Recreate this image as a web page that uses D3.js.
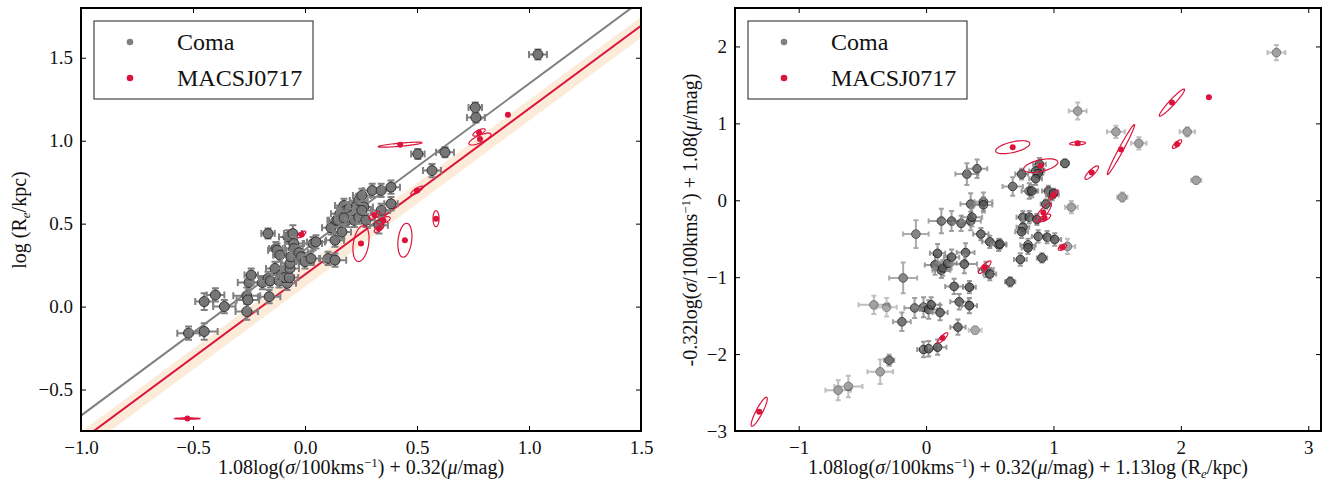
<!DOCTYPE html>
<html>
<head>
<meta charset="utf-8">
<script src="https://cdn.jsdelivr.net/npm/d3@7"></script>
<style>
  body { margin: 0; background: #fff; }
  text { font-family: "Liberation Serif", "DejaVu Serif", serif; fill: #111; }
</style>
</head>
<body>
<svg id="fig" width="1338" height="481"></svg>
<script>
// ---- data ----
// Coma, left panel: [x, y, xerr, yerr]
const comaLeft = [
  [-0.52,-0.16,0.05,0.04],[-0.45,-0.15,0.06,0.05],[-0.45,0.03,0.04,0.05],[-0.40,0.07,0.04,0.04],
  [-0.36,0.00,0.05,0.04],[-0.26,-0.03,0.05,0.05],[-0.26,0.065,0.06,0.05],[-0.255,0.04,0.05,0.05],
  [-0.25,0.145,0.05,0.04],[-0.24,0.19,0.03,0.04],[-0.19,0.145,0.04,0.04],[-0.165,0.17,0.04,0.04],
  [-0.165,0.44,0.03,0.03],[-0.16,0.06,0.05,0.04],[-0.155,0.155,0.04,0.04],[-0.134,0.23,0.04,0.04],
  [-0.13,0.35,0.03,0.04],[-0.125,0.34,0.04,0.04],[-0.112,0.31,0.03,0.04],[-0.116,0.155,0.04,0.04],
  [-0.107,0.19,0.04,0.04],[-0.08,0.14,0.04,0.04],[-0.09,0.175,0.04,0.04],[-0.07,0.175,0.04,0.04],
  [-0.067,0.23,0.04,0.04],[-0.067,0.26,0.04,0.04],[-0.063,0.30,0.04,0.04],[-0.076,0.42,0.04,0.04],
  [-0.054,0.44,0.04,0.05],[-0.05,0.38,0.04,0.04],[-0.05,0.35,0.04,0.04],[-0.027,0.325,0.04,0.04],
  [-0.018,0.30,0.04,0.04],[0.0,0.27,0.04,0.04],[0.027,0.29,0.04,0.04],[0.036,0.38,0.04,0.04],
  [0.049,0.39,0.04,0.04],[0.103,0.29,0.04,0.04],[0.134,0.28,0.05,0.04],[0.134,0.40,0.04,0.04],
  [0.116,0.475,0.04,0.04],[0.14,0.52,0.04,0.04],[0.147,0.52,0.04,0.04],[0.165,0.45,0.04,0.04],
  [0.156,0.56,0.04,0.04],[0.174,0.61,0.04,0.04],[0.183,0.58,0.04,0.04],[0.196,0.59,0.04,0.04],
  [0.21,0.55,0.04,0.04],[0.188,0.52,0.04,0.04],[0.174,0.535,0.04,0.04],[0.22,0.52,0.04,0.04],
  [0.24,0.54,0.04,0.04],[0.23,0.61,0.04,0.04],[0.24,0.64,0.04,0.04],[0.254,0.67,0.04,0.04],
  [0.263,0.60,0.04,0.04],[0.254,0.58,0.04,0.04],[0.272,0.52,0.04,0.04],[0.30,0.70,0.04,0.04],
  [0.34,0.70,0.04,0.04],[0.384,0.72,0.04,0.04],[0.34,0.58,0.04,0.04],[0.33,0.49,0.04,0.05],
  [0.384,0.62,0.03,0.04],[0.504,0.92,0.03,0.03],[0.567,0.82,0.04,0.04],[0.625,0.93,0.04,0.03],
  [0.76,1.20,0.03,0.03],[0.763,1.14,0.04,0.03],[1.04,1.52,0.04,0.03]
];

// MACSJ0717, left panel: [x, y, major half-axis dx, dy, minor/major ratio]
const macsLeft = [
  [-0.525,-0.675,0.058,0.0,0.05],[0.425,0.976,0.098,0.012,0.07],[0.906,1.157,0.006,0.004,0.5],
  [0.777,1.05,0.027,0.018,0.35],[0.781,1.01,0.049,0.03,0.3],[0.50,0.70,0.027,0.024,0.3],
  [0.585,0.53,0.0,0.048,0.38],[0.446,0.40,0.009,0.102,0.4],[0.25,0.38,0.013,0.108,0.42],
  [-0.015,0.435,0.018,0.018,0.4],[0.31,0.55,0.025,0.02,0.4],[0.35,0.52,0.03,0.015,0.4],
  [0.33,0.47,0.02,0.02,0.4]
];

// fits in left panel: [slope, intercept]
const fitComa = [1.0, 0.343];
const fitMacs = [1.0, 0.193];
const bandMacs = [0.12, 0.245]; // intercepts of the shaded band edges

// Coma, right panel: [x, y, xerr, yerr, alpha]
const comaRight = [
  [-0.69,-2.47,0.10,0.13,0.55],[-0.61,-2.42,0.11,0.14,0.55],[-0.36,-2.23,0.10,0.16,0.55],
  [-0.29,-2.08,0.04,0.07,0.8],[-0.41,-1.36,0.12,0.12,0.55],[-0.31,-1.39,0.08,0.12,0.5],
  [-0.19,-1.58,0.07,0.12,0.8],[-0.18,-1.01,0.11,0.20,0.7],[-0.08,-0.44,0.10,0.18,0.7],
  [-0.09,-1.40,0.08,0.13,0.8],[-0.02,-1.39,0.08,0.13,0.85],[0.02,-1.42,0.07,0.12,0.85],
  [0.04,-1.36,0.07,0.10,0.85],[0.11,-1.46,0.06,0.10,0.85],[-0.02,-1.94,0.05,0.10,0.85],
  [0.02,-1.93,0.06,0.10,0.85],[0.09,-1.91,0.07,0.10,0.85],[0.25,-1.65,0.06,0.10,0.85],
  [0.385,-1.69,0.05,0.05,0.5],[0.26,-1.32,0.07,0.10,0.85],[0.34,-1.37,0.06,0.10,0.9],
  [0.22,-1.12,0.07,0.10,0.85],[0.34,-1.13,0.05,0.08,0.9],[0.07,-0.84,0.08,0.13,0.85],
  [0.09,-0.69,0.06,0.12,0.85],[0.12,-0.91,0.07,0.10,0.85],[0.13,-0.88,0.07,0.10,0.85],
  [0.17,-0.82,0.07,0.10,0.85],[0.20,-0.74,0.06,0.10,0.85],[0.31,-0.68,0.07,0.12,0.85],
  [0.30,-0.83,0.10,0.12,0.85],[0.43,-0.44,0.06,0.08,0.85],[0.50,-0.54,0.06,0.08,0.85],
  [0.57,-0.58,0.06,0.08,0.85],[0.47,-0.90,0.06,0.10,0.85],[0.50,-0.96,0.05,0.08,0.85],
  [0.32,0.34,0.09,0.14,0.8],[0.40,0.41,0.08,0.12,0.8],[0.35,-0.05,0.08,0.14,0.8],
  [0.45,-0.02,0.07,0.12,0.8],[0.45,-0.06,0.07,0.10,0.8],[0.12,-0.27,0.10,0.16,0.8],
  [0.20,-0.27,0.07,0.13,0.8],[0.275,-0.30,0.06,0.10,0.8],[0.35,-0.27,0.08,0.12,0.8],
  [0.36,-0.22,0.08,0.12,0.8],[0.68,0.18,0.08,0.12,0.8],[0.75,0.34,0.05,0.07,0.85],
  [0.81,0.12,0.06,0.10,0.85],[0.76,-0.22,0.05,0.08,0.85],[0.76,-0.35,0.05,0.08,0.85],
  [0.75,-0.41,0.05,0.08,0.85],[0.80,-0.58,0.06,0.08,0.85],[0.74,-0.77,0.05,0.08,0.85],
  [1.19,1.16,0.07,0.11,0.55],[1.49,0.89,0.07,0.08,0.55],[1.67,0.74,0.06,0.08,0.55],
  [2.05,0.89,0.06,0.06,0.55],[2.12,0.26,0.04,0.04,0.55],[1.54,0.04,0.04,0.06,0.55],
  [1.14,-0.09,0.05,0.08,0.55],[2.75,1.92,0.07,0.10,0.55],[1.09,0.48,0.03,0.05,0.85],
  [0.89,0.47,0.05,0.08,0.85],[0.89,0.39,0.04,0.06,0.85],[0.86,0.38,0.05,0.07,0.85],
  [0.88,0.35,0.04,0.06,0.85],[0.86,0.28,0.05,0.08,0.85],[0.83,0.12,0.05,0.08,0.85],
  [0.96,0.12,0.05,0.07,0.85],[0.99,0.07,0.05,0.07,0.85],[1.00,0.09,0.04,0.06,0.85],
  [0.94,-0.05,0.04,0.06,0.85],[0.81,-0.22,0.05,0.08,0.85],[0.87,-0.25,0.05,0.07,0.85],
  [0.88,-0.47,0.05,0.08,0.85],[0.95,-0.48,0.05,0.08,0.85],[1.01,-0.51,0.05,0.08,0.85],
  [1.11,-0.60,0.06,0.10,0.55],[0.80,-0.62,0.05,0.08,0.85],[0.91,-0.75,0.04,0.06,0.85],
  [0.66,-1.06,0.04,0.06,0.85],[0.58,-0.57,0.05,0.06,0.85]
];

// MACSJ0717, right panel: [x, y, major half-axis dx, dy, minor/major ratio]
const macsRight = [
  [2.22,1.34,0.005,0.005,0.5],[1.93,1.27,0.098,0.175,0.15],[1.53,0.66,0.106,0.325,0.08],
  [1.30,0.36,0.051,0.084,0.3],[1.19,0.74,0.063,0.006,0.2],[1.97,0.73,0.035,0.052,0.35],
  [0.68,0.69,0.134,0.052,0.3],[0.90,0.45,0.134,0.05,0.33],[1.0,0.07,0.035,0.065,0.3],
  [0.92,-0.16,0.059,0.123,0.3],[0.93,-0.23,0.047,0.039,0.4],[1.07,-0.61,0.031,0.032,0.5],
  [0.46,-0.87,0.047,0.078,0.3],[0.13,-1.79,0.039,0.065,0.3],[-1.31,-2.75,0.059,0.188,0.2]
];

const legendNames = ["Coma", "MACSJ0717"];
const leftXTicks = [-1.0, -0.5, 0.0, 0.5, 1.0, 1.5];
const leftYTicks = [-0.5, 0.0, 0.5, 1.0, 1.5];
const rightXTicks = [-1, 0, 1, 2, 3];
const rightYTicks = [-3, -2, -1, 0, 1, 2];

// ---- drawing ----
const svg = d3.select("#fig");
const GREY = "#808080", RED = "#dc143c";

function makePanel(id, box, xDom, yDom) {
  const x = d3.scaleLinear().domain(xDom).range([box.x0, box.x1]);
  const y = d3.scaleLinear().domain(yDom).range([box.y1, box.y0]);
  svg.append("clipPath").attr("id", id)
    .append("rect").attr("x", box.x0).attr("y", box.y0)
    .attr("width", box.x1 - box.x0).attr("height", box.y1 - box.y0);
  const g = svg.append("g").attr("clip-path", `url(#${id})`);
  return { x, y, g, box };
}

function drawAxes(p, xt, yt, fmt) {
  const { x, y, box } = p;
  const ax = svg.append("g");
  ax.append("g").attr("transform", `translate(0,${box.y1})`)
    .call(d3.axisBottom(x).tickValues(xt).tickSize(-5).tickPadding(10).tickFormat(fmt));
  ax.append("g").attr("transform", `translate(0,${box.y0})`)
    .call(d3.axisTop(x).tickValues(xt).tickSize(-5).tickFormat(""));
  ax.append("g").attr("transform", `translate(${box.x0},0)`)
    .call(d3.axisLeft(y).tickValues(yt).tickSize(-5).tickPadding(8).tickFormat(fmt));
  ax.append("g").attr("transform", `translate(${box.x1},0)`)
    .call(d3.axisRight(y).tickValues(yt).tickSize(-5).tickFormat(""));
  ax.selectAll(".domain").remove();
  ax.selectAll(".tick line").attr("stroke", "#000").attr("stroke-width", 1);
  ax.selectAll(".tick text").style("font-family", '"Liberation Serif", serif')
    .style("font-size", "19px").attr("fill", "#222");
  svg.append("rect").attr("x", box.x0).attr("y", box.y0)
    .attr("width", box.x1 - box.x0).attr("height", box.y1 - box.y0)
    .attr("fill", "none").attr("stroke", "#000").attr("stroke-width", 2);
}

function drawErrPoints(p, data, o) {
  const { x, y, g } = p;
  const cap = o.cap;
  const pt = g.append("g").selectAll("g").data(data).join("g")
    .attr("opacity", d => d[4] !== undefined ? d[4] : 1);
  const eb = pt.append("g").attr("stroke", o.errColor).attr("stroke-width", o.errWidth).attr("fill", "none");
  eb.append("path").attr("d", d => {
    const cx = x(d[0]), cy = y(d[1]);
    const xl = x(d[0] - d[2]), xr = x(d[0] + d[2]);
    const yt = y(d[1] + d[3]), yb = y(d[1] - d[3]);
    return `M${xl},${cy}H${xr}M${cx},${yt}V${yb}` +
      `M${xl},${cy - cap}V${cy + cap}M${xr},${cy - cap}V${cy + cap}` +
      `M${cx - cap},${yt}H${cx + cap}M${cx - cap},${yb}H${cx + cap}`;
  });
  pt.append("circle").attr("cx", d => x(d[0])).attr("cy", d => y(d[1])).attr("r", o.r)
    .attr("fill", o.fill).attr("stroke", o.stroke).attr("stroke-width", 1);
}

function drawEllipses(p, data) {
  const { x, y, g } = p;
  const line = d3.line();
  const grp = g.append("g");
  data.forEach(d => {
    const cx = x(d[0]), cy = y(d[1]);
    const ux = x(d[0] + d[2]) - cx, uy = y(d[1] + d[3]) - cy;
    const vx = -uy * d[4], vy = ux * d[4];
    const pts = d3.range(0, 65).map(i => {
      const t = i / 64 * 2 * Math.PI;
      return [cx + Math.cos(t) * ux + Math.sin(t) * vx, cy + Math.cos(t) * uy + Math.sin(t) * vy];
    });
    grp.append("path").attr("d", line(pts)).attr("fill", "none")
      .attr("stroke", RED).attr("stroke-width", 1.2);
    grp.append("circle").attr("cx", cx).attr("cy", cy).attr("r", 3).attr("fill", RED);
  });
}

function drawLegend(p) {
  const lx = p.box.x0 + 13, ly = p.box.y0 + 13;
  const lg = svg.append("g");
  lg.append("rect").attr("x", lx).attr("y", ly).attr("width", 219).attr("height", 78)
    .attr("fill", "#fff").attr("stroke", "#444").attr("stroke-width", 1.2);
  const cols = [GREY, RED];
  legendNames.forEach((n, i) => {
    const yy = ly + 21 + i * 36;
    lg.append("circle").attr("cx", lx + 36).attr("cy", yy).attr("r", 3.3).attr("fill", cols[i]);
    lg.append("text").attr("x", lx + 83).attr("y", yy).attr("dy", "0.35em")
      .style("font-size", "24px").text(n);
  });
}

// math-ish label helper: parts are [text, style]
function mathLabel(sel, parts) {
  parts.forEach(([t, s]) => {
    const ts = sel.append("tspan").text(t);
    if (s === "i") ts.style("font-style", "italic");
    if (s === "sup") ts.style("font-size", "13px").attr("baseline-shift", "7");
    if (s === "sub") ts.style("font-size", "13px").style("font-style", "italic").attr("baseline-shift", "-4");
  });
}

// left panel
const L = makePanel("clipL", { x0: 81, x1: 641, y0: 8, y1: 431 }, [-1.0, 1.5], [-0.75, 1.8]);
const lineFor = (fit) => L.x.domain().map(v => [L.x(v), L.y(fit[0] * v + fit[1])]);
const bandPts = L.x.domain().map(v => [L.x(v), L.y(v + bandMacs[1])])
  .concat(L.x.domain().slice().reverse().map(v => [L.x(v), L.y(v + bandMacs[0])]));
L.g.append("path").attr("d", d3.line()(bandPts) + "Z").attr("fill", "#fdebd9");
L.g.append("path").attr("d", d3.line()(lineFor(fitComa))).attr("stroke", GREY).attr("stroke-width", 2).attr("fill", "none");
L.g.append("path").attr("d", d3.line()(lineFor(fitMacs))).attr("stroke", RED).attr("stroke-width", 2).attr("fill", "none");
drawErrPoints(L, comaLeft, { r: 5, fill: "#767676", stroke: "#333", errColor: GREY, errWidth: 2, cap: 3.5 });
drawEllipses(L, macsLeft);
drawAxes(L, leftXTicks, leftYTicks, d3.format(".1f"));
drawLegend(L);

// right panel
const R = makePanel("clipR", { x0: 735, x1: 1321, y0: 8, y1: 431 }, [-1.5, 3.1], [-3, 2.5]);
drawErrPoints(R, comaRight, { r: 4.3, fill: "#555", stroke: "#111", errColor: "#8a8a8a", errWidth: 2, cap: 2.5 });
drawEllipses(R, macsRight);
drawAxes(R, rightXTicks, rightYTicks, d3.format("d"));
drawLegend(R);

// axis titles
const t1 = svg.append("text").attr("x", 361).attr("y", 474).attr("text-anchor", "middle").style("font-size", "20px");
mathLabel(t1, [["1.08log("], ["σ", "i"], ["/100kms"], ["−1", "sup"], [") + 0.32("], ["μ", "i"], ["/mag)"]]);
const t2 = svg.append("text").attr("transform", "translate(26,220) rotate(-90)").attr("text-anchor", "middle").style("font-size", "20px");
mathLabel(t2, [["log (R"], ["e", "sub"], ["/kpc)"]]);
const t3 = svg.append("text").attr("x", 1028).attr("y", 474).attr("text-anchor", "middle").style("font-size", "20px");
mathLabel(t3, [["1.08log("], ["σ", "i"], ["/100kms"], ["−1", "sup"], [") + 0.32("], ["μ", "i"], ["/mag) + 1.13log (R"], ["e", "sub"], ["/kpc)"]]);
const t4 = svg.append("text").attr("transform", "translate(697,220) rotate(-90)").attr("text-anchor", "middle").style("font-size", "20px");
mathLabel(t4, [["-0.32log("], ["σ", "i"], ["/100kms"], ["−1", "sup"], [") + 1.08("], ["μ", "i"], ["/mag)"]]);
</script>
</body>
</html>
